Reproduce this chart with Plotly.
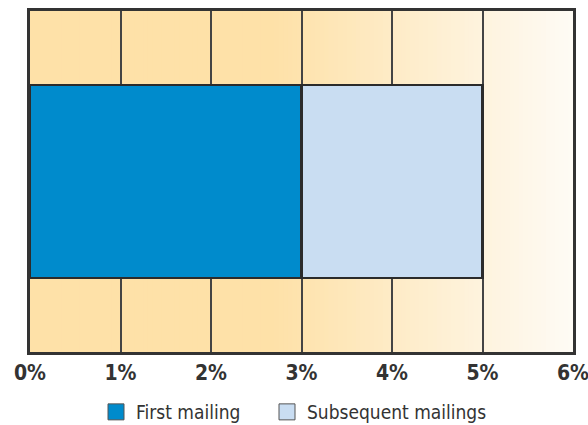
import plotly.graph_objects as go
import numpy as np

categories = [""]
series_names = ["First mailing", "Subsequent mailings"]
first_mailing = [3.0]
subsequent_mailings = [2.0]
tick_values = [0, 1, 2, 3, 4, 5, 6]
tick_labels = ["0%", "1%", "2%", "3%", "4%", "5%", "6%"]
colors = ["#008BCC", "#C9DDF2"]

FONT = "DejaVu Sans Condensed, Liberation Sans Narrow, Arial Narrow, sans-serif"
OUTLINE = "#2b2b2b"
fig = go.Figure()
for name, vals, col in zip(series_names, [first_mailing, subsequent_mailings], colors):
    fig.add_trace(go.Bar(
        y=categories, x=vals, name=name, orientation="h", showlegend=False,
        width=0.565, marker=dict(color=col, line=dict(color=OUTLINE, width=2.5)),
    ))
# legend entries with larger square symbols, each in its own legend box
for name, col, lg in zip(series_names, colors, ["legend", "legend2"]):
    fig.add_trace(go.Scatter(
        x=[None], y=[None], mode="markers", name=name, legend=lg,
        marker=dict(symbol="square", size=16, color=col, line=dict(color="#555555", width=1)),
    ))

# gradient background strips
shapes = []
N = 120
c0 = np.array([254, 225, 168])
c1 = np.array([254, 251, 245])
edges = np.linspace(0, 6, N + 1)
for i in range(N):
    xm = (edges[i] + edges[i + 1]) / 2
    t = 0 if xm < 2.7 else min(1, (xm - 2.7) / 3.3)
    c = (c0 * (1 - t) + c1 * t).round().astype(int)
    shapes.append(dict(type="rect", xref="x", yref="paper", x0=edges[i], x1=edges[i + 1] + 0.01,
                       y0=0, y1=1, fillcolor=f"rgb({c[0]},{c[1]},{c[2]})", line=dict(width=0),
                       layer="below"))

legend_font = dict(family=FONT, size=19, color="#333333")
fig.update_layout(
    width=588, height=425,
    margin=dict(l=30, r=15, t=11, b=73, autoexpand=False),
    barmode="stack",
    paper_bgcolor="white", plot_bgcolor="white",
    shapes=shapes,
    showlegend=True,
    legend=dict(orientation="h", x=(96 - 30) / 543, xanchor="left", y=-0.176, yanchor="middle",
                font=legend_font, itemwidth=30, bgcolor="rgba(0,0,0,0)"),
    legend2=dict(orientation="h", x=(267 - 30) / 543, xanchor="left", y=-0.176, yanchor="middle",
                 font=legend_font, itemwidth=30, bgcolor="rgba(0,0,0,0)"),
    xaxis=dict(range=[0, 6], tickvals=tick_values, ticktext=tick_labels,
               showgrid=True, gridcolor="#444444", gridwidth=1.5,
               showline=True, linecolor="#333333", linewidth=3, mirror=True,
               zeroline=False, ticks="", ticklabeloverflow="allow",
               tickfont=dict(family=FONT, size=21, color="#333333", weight="bold")),
    yaxis=dict(range=[-0.5, 0.5], showticklabels=False, showgrid=False, zeroline=False,
               showline=True, linecolor="#333333", linewidth=3, mirror=True, fixedrange=True),
)
fig.write_html("out.html")
